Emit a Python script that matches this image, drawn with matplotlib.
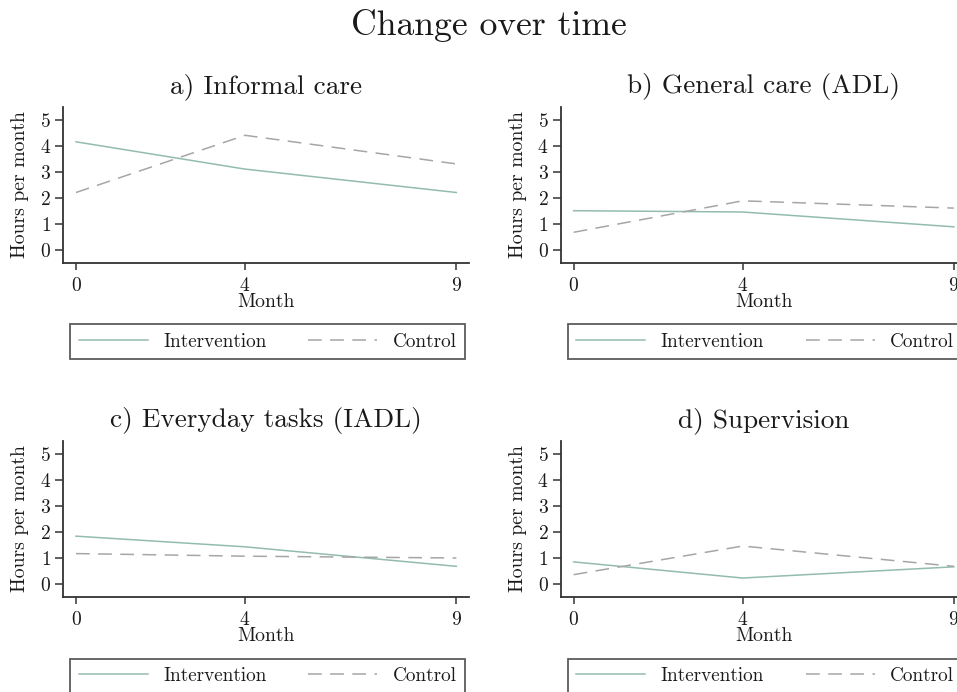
import matplotlib
matplotlib.use("Agg")
import matplotlib.pyplot as plt

months = [0, 4, 9]
titles = ["a) Informal care", "b) General care (ADL)",
          "c) Everyday tasks (IADL)", "d) Supervision"]
intervention = [
    [4.15, 3.10, 2.20],
    [1.50, 1.45, 0.88],
    [1.84, 1.43, 0.68],
    [0.85, 0.23, 0.66],
]
control = [
    [2.20, 4.40, 3.30],
    [0.67, 1.88, 1.60],
    [1.17, 1.07, 1.00],
    [0.36, 1.46, 0.68],
]
yticks = [0, 1, 2, 3, 4, 5]
series_names = ["Intervention", "Control"]

plt.rcParams['font.family'] = ['cmr10', 'DejaVu Serif']
plt.rcParams['axes.formatter.use_mathtext'] = True

W, H = 957, 692
fig = plt.figure(figsize=(W / 100, H / 100), dpi=100)
fig.patch.set_facecolor('white')

txt = '#1a1a1a'
spc = '#333333'
c_int = '#93bcaf'
c_ctl = '#a6a6a6'

# pixel boxes: left, top, right, bottom
boxes = [
    (63.3, 106.7, 469.0, 262.7),
    (561.0, 106.7, 966.5, 262.7),
    (63.3, 441.0, 469.0, 597.0),
    (561.0, 441.0, 966.5, 597.0),
]

def fx(x):
    return x / W

def fy(y):
    return 1 - y / H

fig.text(fx(489), fy(35), "Change over time", ha='center', va='baseline',
         fontsize=25.7, color=txt)

for i, (l, t, r, b) in enumerate(boxes):
    ax = fig.add_axes([fx(l), fy(b), (r - l) / W, (b - t) / H])
    ax.set_facecolor('white')
    h1, = ax.plot(months, intervention[i], color=c_int, lw=1.1,
                  label=series_names[0])
    h2, = ax.plot(months, control[i], color=c_ctl, lw=1.1,
                  dashes=(9, 5.5), label=series_names[1])
    ax.set_xlim(-0.3, 9.3)
    ax.set_ylim(-0.5, 5.5)
    ax.set_xticks(months)
    ax.set_yticks(yticks)
    for s in ['top', 'right']:
        ax.spines[s].set_visible(False)
    for s in ['left', 'bottom']:
        ax.spines[s].set_color(spc)
        ax.spines[s].set_linewidth(1.3)
    ax.tick_params(axis='both', colors=spc, width=1.1, labelcolor=txt,
                   labelsize=14)
    ax.tick_params(axis='y', length=6, pad=3)
    ax.tick_params(axis='x', length=5, pad=5)
    cx = (l + r) / 2
    # panel title
    fig.text(fx(cx), fy(t - 13.5), titles[i], ha='center', va='baseline',
             fontsize=19.6, color=txt)
    # x label
    fig.text(fx(cx), fy(b + 44), "Month", ha='center', va='baseline',
             fontsize=14.2, color=txt)
    # y label
    fig.text(fx(l - 43), fy((t + b) / 2), "Hours per month", rotation=90,
             ha='center', va='center', fontsize=14.2, color=txt)
    # legend
    lx0 = l + 6.7
    ly0 = b + 61.5
    leg = fig.legend([h1, h2], series_names, ncol=2, mode='expand',
                     loc='upper left',
                     bbox_to_anchor=(fx(lx0), fy(ly0 + 37), 395 / W, 37 / H),
                     bbox_transform=fig.transFigure,
                     borderaxespad=0, fontsize=13.8, handlelength=3.6,
                     handletextpad=0.8, borderpad=0.45, fancybox=False,
                     frameon=True)
    leg.get_frame().set_edgecolor(spc)
    leg.get_frame().set_linewidth(1.3)
    for tx in leg.get_texts():
        tx.set_color(txt)

fig.savefig("out.png", dpi=100, facecolor='white')
